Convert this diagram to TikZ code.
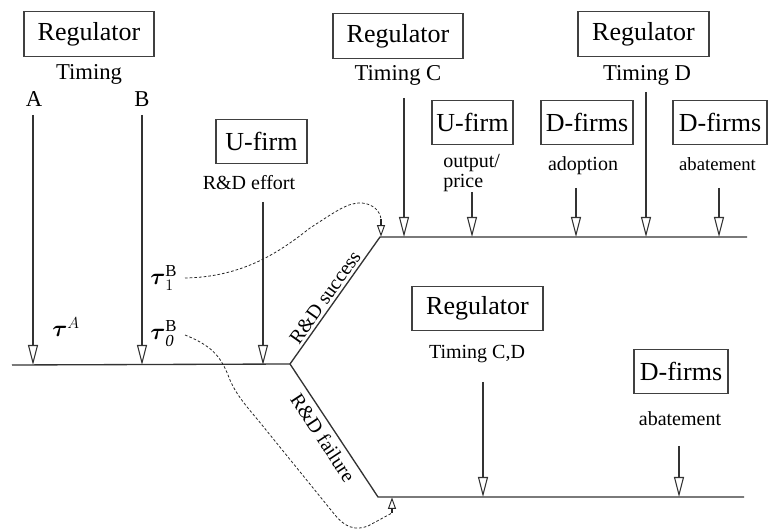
\documentclass[tikz,border=0pt]{standalone}
\usepackage{amsmath}
\usepackage{fontspec}
\setmainfont{Liberation Serif}
\usetikzlibrary{arrows.meta}
\tikzset{
  box/.style={draw=black!75, line width=0.8pt, inner sep=0pt, minimum height=33.5pt,
    font=\fontsize{19.5}{22}\selectfont},
  lbl/.style={inner sep=0pt, anchor=base, font=\fontsize{17}{20}\selectfont},
  slbl/.style={inner sep=0pt, anchor=base, font=\fontsize{15}{18}\selectfont},
  taulbl/.style={inner sep=0pt, anchor=base west, font=\fontsize{18}{20}\selectfont},
  stage/.style={draw=black!80, line width=1.4pt,
    -{Triangle[open, length=15pt, width=7.5pt, line width=0.8pt]}},
  branch/.style={draw=black!80, line width=1pt},
  flow/.style={draw=black!85, line width=0.6pt, dash pattern=on 2pt off 1.5pt},
  flowtip/.style={draw=black!85, line width=1pt,
    -{Triangle[open, length=8.5pt, width=6pt, line width=0.7pt]}},
  onpath/.style={sloped, font=\fontsize{15}{18}\selectfont}
}
\begin{document}
\begin{tikzpicture}[x=0.75pt, y=-0.75pt]
\useasboundingbox (0,0) rectangle (768,530);

% --- boxes
\node[box, minimum width=97.5pt]  (r1) at (89,34)      {Regulator};
\node[box, minimum width=97.5pt]  (r2) at (398,36)     {Regulator};
\node[box, minimum width=98.25pt] (r3) at (643.5,34)   {Regulator};
\node[box, minimum width=68.25pt] (u1) at (261.5,141.5){U-firm};
\node[box, minimum width=60.75pt] (u2) at (472.5,122.5){U-firm};
\node[box, minimum width=69pt]    (d1) at (587,122.5)  {D-firms};
\node[box, minimum width=70.5pt]  (d2) at (720,122.5)  {D-firms};
\node[box, minimum width=98.25pt] (r4) at (477.5,308.5){Regulator};
\node[box, minimum width=70.5pt]  (d3) at (681,371.5)  {D-firms};

% --- labels
\node[lbl] (tim)  at (89,79.5)  {Timing};
\node[lbl] (la)   at (34,107)   {A};
\node[lbl] (lb)   at (142,107)  {B};
\node[lbl] (timc) at (398,81)   {Timing C};
\node[lbl] (timd) at (647,81)   {Timing D};
\node[slbl] (eff) at (249,190)  {R\&D effort};
\node[slbl, anchor=base west] (outp) at (443,168) {output/};
\node[slbl, anchor=base west] (pric) at (443,188) {price};
\node[slbl] (adop) at (583,171) {adoption};
\node[slbl, font=\fontsize{14}{16}\selectfont] (abt1) at (717.5,171) {abatement};
\node[slbl] (tcd)  at (477,359) {Timing C,D};
\node[slbl] (abt2) at (680,425.5) {abatement};

\node[taulbl] (tauA)  at (52,337)  {$\boldsymbol{\tau}^{A}$};
\node[taulbl] (tauB1) at (150,285) {$\boldsymbol{\tau}^{\mathrm{B}}_{1}$};
\node[taulbl] (tauB0) at (150,340) {$\boldsymbol{\tau}^{\mathrm{B}}_{\mathit{0}}$};

% --- time lines
\coordinate (l0) at (12,365);
\coordinate (br) at (290,364);
\coordinate (s0) at (380,237);
\coordinate (s1) at (747,237);
\coordinate (f0) at (378,497);
\coordinate (f1) at (744,497);
\draw[branch] (l0) -- (br);
\draw[branch] (br) -- node[onpath, above, inner sep=2pt, pos=0.48] {R\&D success} (s0) -- (s1);
\draw[branch] (br) -- node[onpath, below, inner sep=4pt, pos=0.5] {R\&D failure} (f0) -- (f1);

% --- stage arrows
\coordinate (aT) at (33,115);   \coordinate (aB) at (33,365);
\coordinate (bT) at (142,115);  \coordinate (bB) at (142,365);
\coordinate (uT) at (263,202);  \coordinate (uB) at (263,365);
\coordinate (cT) at (404,98);   \coordinate (cB) at (404,237);
\coordinate (oT) at (472,192);  \coordinate (oB) at (472,237);
\coordinate (pT) at (576,188);  \coordinate (pB) at (576,237);
\coordinate (dT) at (646,92);   \coordinate (dB) at (646,237);
\coordinate (eT) at (719,188);  \coordinate (eB) at (719,237);
\coordinate (gT) at (483,382);  \coordinate (gB) at (483,497);
\coordinate (hT) at (679,446);  \coordinate (hB) at (679,497);
\foreach \p in {a,b,u,c,o,p,d,e,g,h}
  \draw[stage] (\p T) -- (\p B);

% --- dashed links
\coordinate (k0) at (185,278);
\coordinate (k1) at (381,219);
\coordinate (k2) at (381,236.5);
\draw[flow] (k0) .. controls (245,277) and (282,250) .. (310,228)
  .. controls (335,212) and (348,202) .. (362,203)
  .. controls (373,204) and (380,211) .. (k1);
\draw[flowtip] (k1) -- (k2);

\coordinate (m0) at (185,335);
\coordinate (m1) at (392,513);
\coordinate (m2) at (392,497.5);
\draw[flow] (m0) .. controls (210,345) and (220,355) .. (228,375)
  .. controls (235,395) and (250,410) .. (262,425)
  -- (335,515) .. controls (345,527) and (355,531) .. (368,526) -- (m1);
\draw[flowtip] (m1) -- (m2);
\end{tikzpicture}
\end{document}
